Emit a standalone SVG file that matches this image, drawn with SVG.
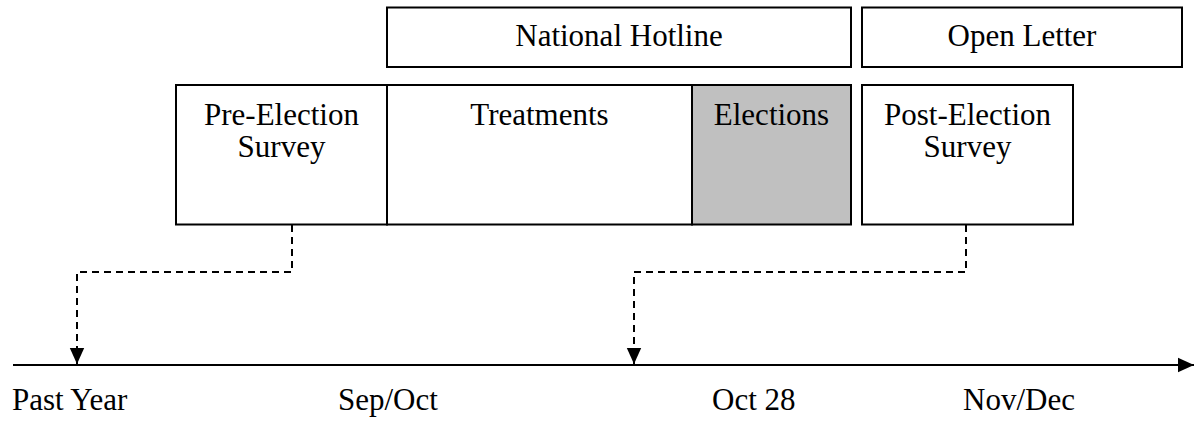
<svg xmlns="http://www.w3.org/2000/svg" width="1196" height="421" viewBox="0 0 1196 421">
<defs>
<style>
.box{fill:#fff;stroke:#000;stroke-width:2}
.grey{fill:#c0c0c0;stroke:#000;stroke-width:2}
.t{font-family:"Liberation Serif","Times New Roman",serif;font-size:31px;fill:#000;text-anchor:middle}
.tl{font-family:"Liberation Serif","Times New Roman",serif;font-size:31px;fill:#000}
.dash{fill:none;stroke:#000;stroke-width:2;stroke-dasharray:7,5}
.axis{fill:none;stroke:#000;stroke-width:2}
</style>
<marker id="ah" viewBox="0 0 10 10" refX="10" refY="5" markerWidth="16" markerHeight="16" markerUnits="userSpaceOnUse" orient="auto" preserveAspectRatio="none">
<path d="M0,0.5 L10,5 L0,9.5 Z" fill="#000"/>
</marker>
</defs>
<rect width="1196" height="421" fill="#fff"/>
<g id="national-hotline"><rect class="box" x="387" y="7.5" width="464" height="59.5"/><text class="t" x="619" y="46">National Hotline</text></g>
<g id="open-letter"><rect class="box" x="862" y="7.5" width="320" height="59.5"/><text class="t" x="1022" y="46">Open Letter</text></g>
<g id="pre-election"><rect class="box" x="176" y="85" width="211" height="139.5"/><text class="t" x="281.5" y="125">Pre-Election</text><text class="t" x="281.5" y="157">Survey</text></g>
<g id="treatments"><rect class="box" x="387" y="85" width="305" height="139.5"/><text class="t" x="539.5" y="125">Treatments</text></g>
<g id="elections"><rect class="grey" x="692" y="85" width="159" height="139.5"/><text class="t" x="771.5" y="125">Elections</text></g>
<g id="post-election"><rect class="box" x="862" y="85" width="211" height="139.5"/><text class="t" x="967.5" y="125">Post-Election</text><text class="t" x="967.5" y="157">Survey</text></g>
<g id="connectors">
<path class="axis" d="M13,365 H1194" marker-end="url(#ah)"/>
<path class="dash" d="M292,225 V272 H77 V364" marker-end="url(#ah)"/>
<path class="dash" d="M966,225 V272 H634 V364" marker-end="url(#ah)"/>
</g>
<g id="labels">
<text class="tl" x="12" y="410">Past Year</text>
<text class="tl" x="338" y="410">Sep/Oct</text>
<text class="tl" x="712" y="410">Oct 28</text>
<text class="tl" x="963" y="410">Nov/Dec</text>
</g>
</svg>
